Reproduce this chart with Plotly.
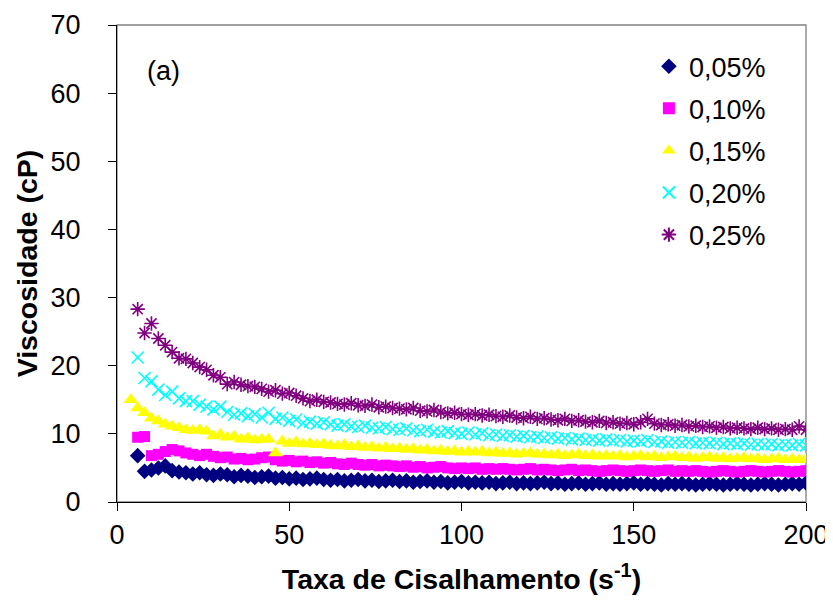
import plotly.graph_objects as go

shear_rate = [4, 6, 8, 10, 12, 14, 16, 18, 20, 22,
              24, 26, 28, 30, 32, 34, 36, 38, 40, 42,
              44, 46, 48, 50, 52, 54, 56, 58, 60, 62,
              64, 66, 68, 70, 72, 74, 76, 78, 80, 82,
              84, 86, 88, 90, 92, 94, 96, 98, 100, 102,
              104, 106, 108, 110, 112, 114, 116, 118, 120, 122,
              124, 126, 128, 130, 132, 134, 136, 138, 140, 142,
              144, 146, 148, 150, 152, 154, 156, 158, 160, 162,
              164, 166, 168, 170, 172, 174, 176, 178, 180, 182,
              184, 186, 188, 190, 192, 194, 196, 198, 200]

visc_005 = [None, 6.8, 4.5, 4.7, 5.0, 5.3, 4.6, 4.4, 4.3, 4.1,
            4.3, 4.0, 3.9, 4.1, 4.0, 3.7, 3.9, 3.8, 3.6, 3.7,
            3.8, 3.5, 3.6, 3.4, 3.5, 3.3, 3.4, 3.5, 3.3, 3.2,
            3.3, 3.1, 3.2, 3.3, 3.1, 3.2, 3.0, 3.1, 3.2, 3.0,
            3.1, 2.9, 3.0, 3.1, 2.9, 3.0, 2.8, 2.9, 3.0, 2.8,
            2.9, 2.8, 2.9, 2.7, 2.8, 2.9, 2.7, 2.8, 2.7, 2.8,
            2.9, 2.7, 2.8, 2.6, 2.7, 2.8, 2.6, 2.7, 2.8, 2.6,
            2.7, 2.6, 2.7, 2.8, 2.6, 2.7, 2.6, 2.5, 2.7, 2.6,
            2.7, 2.6, 2.5, 2.6, 2.7, 2.6, 2.5, 2.6, 2.7, 2.6,
            2.5, 2.6, 2.7, 2.6, 2.5, 2.6, 2.7, 2.6, 2.8]

visc_010 = [None, 9.5, 9.6, 6.8, 7.0, 7.4, 7.7, 7.5, 7.2, 7.0,
            6.8, 7.0, 6.7, 6.5, 6.6, 6.3, 6.4, 6.2, 6.3, 6.5,
            6.6, 6.2, 6.0, 6.1, 5.9, 6.0, 5.8, 5.9, 5.7, 5.8,
            5.6, 5.5, 5.7, 5.5, 5.4, 5.5, 5.3, 5.4, 5.3, 5.2,
            5.3, 5.1, 5.2, 5.0, 5.1, 5.2, 5.0, 4.9, 5.0, 4.9,
            5.0, 4.8, 4.9, 4.8, 4.9, 4.8, 4.7, 4.8, 4.9, 4.7,
            4.8, 4.7, 4.6, 4.7, 4.8, 4.6, 4.7, 4.6, 4.5, 4.6,
            4.7, 4.6, 4.5, 4.6, 4.7, 4.6, 4.5, 4.6, 4.7, 4.5,
            4.6, 4.5, 4.6, 4.5, 4.4, 4.5, 4.6, 4.5, 4.4, 4.5,
            4.6, 4.5, 4.4, 4.5, 4.6, 4.5, 4.4, 4.5, 4.6]

visc_015 = [15.0, 13.8, 13.1, 12.3, 11.9, 11.4, 11.1, 10.9, 10.6, 10.5,
            10.6, 10.4, 9.7, 9.9, 9.5, 9.6, 9.2, 9.4, 9.1, 9.2,
            9.2, 7.2, 8.9, 8.6, 8.8, 8.5, 8.6, 8.4, 8.5, 8.3,
            8.2, 8.4, 8.1, 8.2, 8.0, 8.1, 7.9, 8.0, 7.8, 7.9,
            7.7, 7.8, 7.6, 7.7, 7.5, 7.6, 7.4, 7.5, 7.3, 7.4,
            7.3, 7.4, 7.2, 7.3, 7.1, 7.2, 7.0, 7.1, 7.2, 7.0,
            7.0, 6.9, 7.0, 6.8, 6.9, 7.0, 6.8, 6.9, 6.7, 6.8,
            6.7, 6.8, 6.6, 6.7, 6.8, 6.6, 6.7, 6.5, 6.6, 6.7,
            6.5, 6.6, 6.4, 6.5, 6.6, 6.4, 6.5, 6.3, 6.4, 6.5,
            6.3, 6.4, 6.2, 6.3, 6.4, 6.2, 6.3, 6.2, 6.3]

visc_020 = [None, 21.2, 18.2, 17.7, 16.5, 15.7, 16.2, 15.2, 14.8, 14.8,
            14.3, 14.0, 13.6, 14.0, 13.2, 12.8, 13.0, 12.6, 12.9, 12.4,
            13.1, 12.2, 12.4, 11.9, 12.1, 11.6, 11.8, 11.5, 11.7, 11.4,
            11.2, 11.4, 11.1, 11.0, 11.2, 10.9, 10.8, 11.0, 10.7, 10.6,
            10.8, 10.5, 10.4, 10.6, 10.3, 10.2, 10.4, 10.1, 10.0, 10.2,
            9.9, 10.1, 9.8, 9.9, 9.7, 9.8, 9.6, 9.7, 9.5, 9.6,
            9.4, 9.5, 9.3, 9.4, 9.2, 9.3, 9.1, 9.2, 9.0, 9.2,
            9.0, 9.1, 8.9, 9.0, 8.9, 9.1, 8.8, 8.9, 8.7, 8.8,
            8.7, 8.8, 8.6, 8.7, 8.6, 8.7, 8.5, 8.6, 8.5, 8.6,
            8.4, 8.5, 8.4, 8.5, 8.3, 8.4, 8.3, 8.5, 8.3]

visc_025 = [None, 28.3, 24.8, 26.2, 24.0, 23.0, 22.0, 21.1, 21.0, 20.4,
            19.8, 19.4, 18.6, 18.3, 17.3, 17.6, 17.2, 17.0, 16.9, 16.6,
            16.2, 16.4, 15.9, 16.0, 15.6, 15.2, 14.8, 15.0, 14.7, 14.6,
            14.4, 14.3, 14.5, 14.2, 14.1, 14.3, 13.9, 14.0, 13.8, 13.7,
            13.6, 13.8, 13.4, 13.3, 13.5, 13.2, 13.0, 13.1, 12.9, 12.8,
            12.9, 12.7, 12.8, 12.6, 12.5, 12.7, 12.4, 12.3, 12.5, 12.2,
            12.3, 12.1, 12.0, 12.2, 11.9, 12.0, 11.8, 11.7, 11.9, 11.6,
            11.7, 11.5, 11.6, 11.4, 11.7, 12.2, 11.5, 11.3, 11.4, 11.2,
            11.3, 11.1, 11.2, 11.0, 11.1, 10.9, 11.0, 10.8, 10.9, 10.8,
            10.7, 10.9, 10.7, 10.8, 10.6, 10.7, 10.6, 11.1, 10.6]

series_names = ["0,05%", "0,10%", "0,15%", "0,20%", "0,25%"]
x_ticks = [0, 50, 100, 150, 200]
y_ticks = [0, 10, 20, 30, 40, 50, 60, 70]

series = [visc_005, visc_010, visc_015, visc_020, visc_025]
styles = [
    dict(symbol="diamond", size=12, color="#000080"),
    dict(symbol="square", size=11, color="#FF00FF"),
    dict(symbol="triangle-up", size=13, color="#FFFF00"),
    dict(symbol="x-thin-open", size=12, color="#00FFFF", line=dict(width=1.6, color="#00FFFF")),
    dict(symbol="asterisk-open", size=12, color="#800080", line=dict(width=1.6, color="#800080")),
]

fig = go.Figure()
for i, (name, ys, st) in enumerate(zip(series_names, series, styles)):
    fig.add_trace(go.Scatter(
        x=shear_rate, y=ys, mode="markers", name=name,
        legendgroup=f"g{i}", marker=st, cliponaxis=True,
    ))

font_family = "Liberation Sans, Arial, sans-serif"

# page body has an 8px default margin, so the figure is sized to compensate
fig.update_layout(
    width=825, height=594,
    margin=dict(l=109, r=27, t=17, b=100, autoexpand=False),
    paper_bgcolor="white", plot_bgcolor="white",
    font=dict(family=font_family, size=27, color="#000000"),
    showlegend=True,
    legend=dict(
        x=0.772, y=0.964, xanchor="left", yanchor="top",
        bgcolor="rgba(0,0,0,0)", font=dict(size=27, family=font_family),
        traceorder="grouped", tracegroupgap=4, itemsizing="constant",
    ),
    xaxis=dict(
        range=[0, 200], tickvals=x_ticks, ticktext=[str(v) for v in x_ticks],
        showgrid=False, zeroline=False, showline=True, linecolor="#000000", linewidth=1.3,
        ticks="outside", ticklen=8, tickcolor="#000000", tickwidth=1.3,
        tickfont=dict(size=27), ticklabelstandoff=0, automargin=False,
        ticklabeloverflow="allow",
        title=dict(text="<b>Taxa de Cisalhamento (s<sup>-1</sup>)</b>", font=dict(size=28.5), standoff=20),
    ),
    yaxis=dict(
        range=[0, 70], tickvals=y_ticks, ticktext=[str(v) for v in y_ticks],
        showgrid=False, zeroline=False, showline=True, linecolor="#000000", linewidth=1.3,
        ticks="outside", ticklen=8, tickcolor="#000000", tickwidth=1.3,
        tickfont=dict(size=27), ticklabelstandoff=22, automargin=False,
        ticklabeloverflow="allow",
        title=dict(text="<b>Viscosidade (cP)</b>", font=dict(size=28.5), standoff=4),
    ),
    shapes=[dict(type="rect", xref="paper", yref="paper", x0=0, y0=0, x1=1, y1=1,
                 line=dict(color="#808080", width=1.3), layer="below")],
    annotations=[dict(text="(a)", xref="paper", yref="paper", x=0.04, y=0.904,
                      xanchor="left", yanchor="middle", showarrow=False,
                      font=dict(size=27, family=font_family))],
)

fig.write_html("out.html")
